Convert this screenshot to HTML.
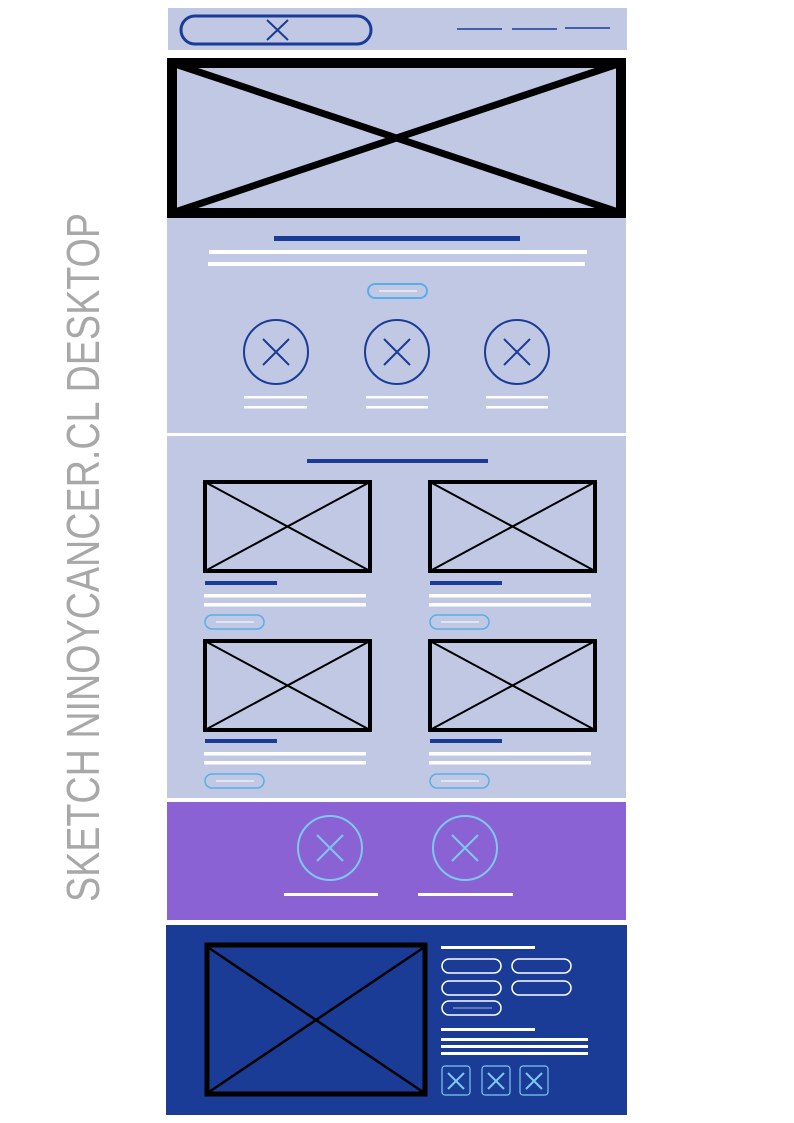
<!DOCTYPE html>
<html><head><meta charset="utf-8"><style>html,body{margin:0;padding:0;background:#fff}svg{display:block}</style></head>
<body>
<svg width="794" height="1123" viewBox="0 0 794 1123" xmlns="http://www.w3.org/2000/svg">
<rect width="794" height="1123" fill="#fff"/>
<text x="0" y="0" transform="translate(99,902) rotate(-90)" font-family="Liberation Sans, sans-serif" font-size="46" fill="#a8a8a8" textLength="689" lengthAdjust="spacingAndGlyphs">SKETCH NINOYCANCER.CL DESKTOP</text>

<!-- header -->
<rect x="168" y="8" width="459" height="42" fill="#c0c8e4"/>
<rect x="181" y="16" width="190" height="28" rx="14" fill="none" stroke="#1a3c96" stroke-width="3"/>
<path d="M267 20 L288 40 M288 20 L267 40" stroke="#1a3c96" stroke-width="2"/>
<g stroke="#1a3c96" stroke-width="1.5"><line x1="457" y1="29" x2="502" y2="29"/><line x1="512" y1="29" x2="557" y2="29"/><line x1="565" y1="28" x2="610" y2="28"/></g>

<!-- hero -->
<rect x="167" y="58" width="459" height="160" fill="#000"/>
<rect x="177" y="68" width="439" height="140" fill="#c0c8e4"/>
<path d="M172 63 L621 213 M621 63 L172 213" stroke="#000" stroke-width="7"/>

<!-- section 1 -->
<rect x="167" y="218" width="459" height="215" fill="#c0c8e4"/>
<rect x="274" y="236" width="246" height="5" fill="#1a3c96"/>
<rect x="209" y="250" width="378" height="4" fill="#fff"/>
<rect x="208" y="262" width="377" height="4" fill="#fff"/>
<rect x="368" y="284" width="59" height="14" rx="7" fill="none" stroke="#5aaee8" stroke-width="2"/>
<line x1="379" y1="291" x2="417" y2="291" stroke="#fff" stroke-width="1"/>
<g fill="none" stroke="#1a3c96" stroke-width="2">
<circle cx="276" cy="352" r="32"/><path d="M263 339 L289 365 M289 339 L263 365"/>
<circle cx="397" cy="352" r="32"/><path d="M384 339 L410 365 M410 339 L384 365"/>
<circle cx="517" cy="352" r="32"/><path d="M504 339 L530 365 M530 339 L504 365"/>
</g>
<g fill="#fff">
<rect x="244" y="396" width="63" height="2.5"/><rect x="244" y="406" width="63" height="2.5"/>
<rect x="366" y="396" width="62" height="2.5"/><rect x="366" y="406" width="62" height="2.5"/>
<rect x="486" y="396" width="62" height="2.5"/><rect x="486" y="406" width="62" height="2.5"/>
</g>

<!-- section 2 -->
<rect x="167" y="436" width="459" height="362" fill="#c0c8e4"/>
<rect x="307" y="459" width="181" height="4" fill="#1a3c96"/>
<g fill="none" stroke="#000">
<g stroke-width="4"><rect x="205" y="482" width="165" height="89"/><rect x="430" y="482" width="165" height="89"/><rect x="205" y="641" width="165" height="89"/><rect x="430" y="641" width="165" height="89"/></g>
<g stroke-width="2"><path d="M205 482 L370 571 M370 482 L205 571"/><path d="M430 482 L595 571 M595 482 L430 571"/><path d="M205 641 L370 730 M370 641 L205 730"/><path d="M430 641 L595 730 M595 641 L430 730"/></g>
</g>
<g>
<rect x="205" y="581" width="72" height="4" fill="#1a3c96"/><rect x="430" y="581" width="72" height="4" fill="#1a3c96"/>
<rect x="205" y="739" width="72" height="4" fill="#1a3c96"/><rect x="430" y="739" width="72" height="4" fill="#1a3c96"/>
<g fill="#fff">
<rect x="204" y="594" width="162" height="3.5"/><rect x="204" y="603" width="162" height="3.5"/>
<rect x="429" y="594" width="162" height="3.5"/><rect x="429" y="603" width="162" height="3.5"/>
<rect x="204" y="752" width="162" height="3.5"/><rect x="204" y="761" width="162" height="3.5"/>
<rect x="429" y="752" width="162" height="3.5"/><rect x="429" y="761" width="162" height="3.5"/>
</g>
<g fill="none" stroke="#5aaee8" stroke-width="1.5">
<rect x="205" y="615" width="59" height="14" rx="7"/><rect x="430" y="615" width="59" height="14" rx="7"/>
<rect x="205" y="774" width="59" height="14" rx="7"/><rect x="430" y="774" width="59" height="14" rx="7"/>
</g>
<g stroke="#fff" stroke-width="1">
<line x1="216" y1="622" x2="254" y2="622"/><line x1="441" y1="622" x2="479" y2="622"/>
<line x1="216" y1="781" x2="254" y2="781"/><line x1="441" y1="781" x2="479" y2="781"/>
</g>
</g>

<!-- purple -->
<rect x="167" y="802" width="459" height="118" fill="#8a62d4"/>
<g fill="none" stroke="#7ec8f0" stroke-width="2">
<circle cx="330" cy="848" r="32"/><path d="M317 835 L343 861 M343 835 L317 861"/>
<circle cx="465" cy="848" r="32"/><path d="M452 835 L478 861 M478 835 L452 861"/>
</g>
<rect x="284" y="893" width="94" height="3" fill="#fff"/>
<rect x="418" y="893" width="95" height="3" fill="#fff"/>

<!-- footer -->
<rect x="166" y="925" width="461" height="190" fill="#1a3c96"/>
<rect x="207" y="945" width="218" height="149" fill="none" stroke="#000" stroke-width="5"/>
<path d="M209 948 L423 1092 M423 948 L209 1092" stroke="#000" stroke-width="2.5"/>
<g fill="#fff">
<rect x="441" y="946" width="94" height="3"/>
<rect x="441" y="1028" width="94" height="3"/>
<rect x="441" y="1038" width="147" height="3"/><rect x="441" y="1045" width="147" height="3"/><rect x="441" y="1052" width="147" height="3"/>
</g>
<g fill="none" stroke="#fff" stroke-width="1.5">
<rect x="442" y="959" width="59" height="14" rx="7"/><rect x="512" y="959" width="59" height="14" rx="7"/>
<rect x="442" y="981" width="59" height="14" rx="7"/><rect x="512" y="981" width="59" height="14" rx="7"/>
<rect x="442" y="1001" width="59" height="14" rx="7"/>
</g>
<line x1="453" y1="1008" x2="492" y2="1008" stroke="#9fb4e0" stroke-width="1"/>
<g fill="none" stroke="#7ec8f0" stroke-width="1.2">
<rect x="442" y="1066" width="28" height="29" rx="3"/><rect x="482" y="1066" width="28" height="29" rx="3"/><rect x="520" y="1066" width="28" height="29" rx="3"/>
</g>
<g stroke="#7ec8f0" stroke-width="2">
<path d="M448 1073 L464 1089 M464 1073 L448 1089"/>
<path d="M488 1073 L504 1089 M504 1073 L488 1089"/>
<path d="M526 1073 L542 1089 M542 1073 L526 1089"/>
</g>
</svg>
</body></html>
